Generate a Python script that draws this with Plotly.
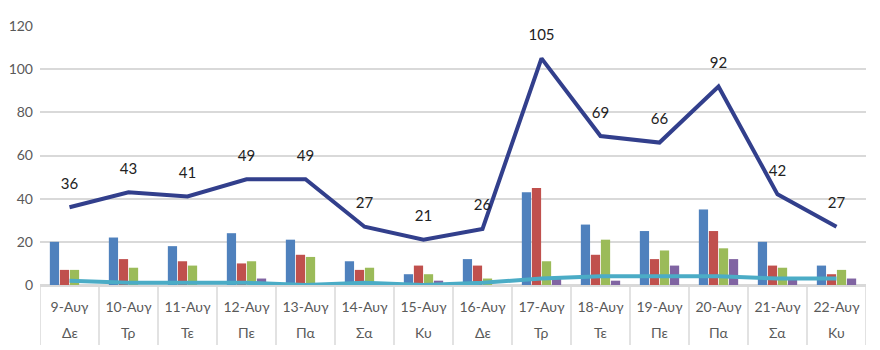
import plotly.graph_objects as go

dates = ["9-Αυγ", "10-Αυγ", "11-Αυγ", "12-Αυγ", "13-Αυγ", "14-Αυγ", "15-Αυγ",
         "16-Αυγ", "17-Αυγ", "18-Αυγ", "19-Αυγ", "20-Αυγ", "21-Αυγ", "22-Αυγ"]
days = ["Δε", "Τρ", "Τε", "Πε", "Πα", "Σα", "Κυ",
        "Δε", "Τρ", "Τε", "Πε", "Πα", "Σα", "Κυ"]

total = [36, 43, 41, 49, 49, 27, 21, 26, 105, 69, 66, 92, 42, 27]
s_blue = [20, 22, 18, 24, 21, 11, 5, 12, 43, 28, 25, 35, 20, 9]
s_red = [7, 12, 11, 10, 14, 7, 9, 9, 45, 14, 12, 25, 9, 5]
s_green = [7, 8, 9, 11, 13, 8, 5, 3, 11, 21, 16, 17, 8, 7]
s_purple = [0, 0, 0, 3, 0, 0, 2, 0, 3, 2, 9, 12, 3, 3]
s_teal = [2, 1, 1, 1, 0, 1, 0, 1, 3, 4, 4, 4, 3, 3]

FONT = "Lato"
GRID = "#D9D9D9"
TXT = "#595959"

fig = go.Figure()
for vals, col in [(s_blue, "#4F81BD"), (s_red, "#C0504D"),
                  (s_green, "#9BBB59"), (s_purple, "#8064A2")]:
    fig.add_trace(go.Bar(x=dates, y=vals, marker_color=col, marker_line_width=0))

fig.add_trace(go.Scatter(x=dates, y=s_teal, mode="lines",
                         line=dict(color="#4BACC6", width=4)))
fig.add_trace(go.Scatter(x=dates, y=total, mode="lines+markers+text", text=[str(v) for v in total],
                         textposition="top center",
                         marker=dict(size=22, color="rgba(0,0,0,0)"),
                         textfont=dict(size=15, color="#222222", family=FONT),
                         line=dict(color="#323F8C", width=4)))

# day-of-week row under the date labels
for d, dy in zip(dates, days):
    fig.add_annotation(x=d, y=-0.185, xref="x", yref="paper", text=dy,
                       showarrow=False, yanchor="middle",
                       font=dict(family=FONT, size=14, color=TXT))

# category dividers
for i in range(len(dates) + 1):
    fig.add_shape(type="line", xref="x", yref="paper", x0=i - 0.5, x1=i - 0.5,
                  y0=0, y1=-0.232, line=dict(color=GRID, width=1.5))

fig.update_layout(
    width=880, height=350,
    margin=dict(l=40, r=14, t=26, b=65, autoexpand=False),
    paper_bgcolor="white", plot_bgcolor="white",
    showlegend=False,
    barmode="group", bargap=0.32, bargroupgap=0.08,
    font=dict(family=FONT, size=14, color=TXT),
)
fig.update_yaxes(range=[0, 120], dtick=20, showgrid=True, gridcolor=GRID,
                 gridwidth=1.5, zeroline=True, zerolinecolor=GRID, zerolinewidth=1.5,
                 tickfont=dict(size=14, color=TXT), ticklabelstandoff=6, automargin=False)
fig.update_xaxes(type="category", range=[-0.5, len(dates) - 0.5], showgrid=False,
                 showline=True, linecolor=GRID, linewidth=1.5, automargin=False,
                 ticklabelstandoff=8, tickfont=dict(size=14, color=TXT))

fig.write_html("out.html")
